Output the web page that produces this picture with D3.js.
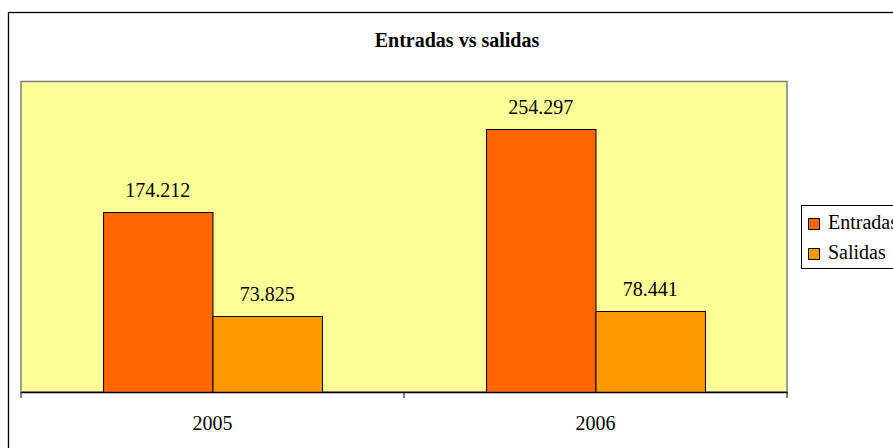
<!DOCTYPE html>
<html>
<script src="https://d3js.org/d3.v7.min.js"></script>
<body style="margin:0">
<svg width="893" height="448"></svg>
<script>
var years    = ["2005", "2006"],
    series   = ["Entradas", "Salidas"],
    entradas = [174212, 254297],
    salidas  = [73825, 78441],
    colors   = ["#FF6600", "#FF9900"];

var values = [entradas, salidas];
var FONT = "Liberation Serif";
var fmt = d3.format(",d");
var label = function(v) { return fmt(v).replace(/,/g, "."); };

var svg = d3.select("svg");

// outer chart frame (runs off the right/bottom edge)
svg.append("rect")
   .attr("x", 8.5).attr("y", 12.5)
   .attr("width", 900).attr("height", 450)
   .attr("fill", "#fff").attr("stroke", "#000").attr("stroke-width", 1.3);

var plot = {left: 21, right: 787, top: 81.5, bottom: 392};

var x0 = d3.scaleBand().domain(years).range([plot.left, plot.right]);
var x1 = d3.scaleBand().domain(series)
           .range([0, x0.bandwidth()]).paddingOuter(0.75);  // excel gap width 150
var y  = d3.scaleLinear().domain([0, 300000]).range([plot.bottom, plot.top]);

svg.append("rect")
   .attr("x", plot.left).attr("y", plot.top)
   .attr("width", plot.right - plot.left).attr("height", plot.bottom - plot.top)
   .attr("fill", "#FFFF99").attr("stroke", "#808080").attr("stroke-width", 1.5);

svg.append("text")
   .attr("x", 457).attr("y", 47)
   .attr("text-anchor", "middle").attr("font-family", FONT)
   .attr("font-weight", "bold").attr("font-size", 20)
   .text("Entradas vs salidas");

var groups = svg.selectAll("g.year")
  .data(years).enter().append("g")
  .attr("class", "year")
  .attr("transform", function(d) { return "translate(" + x0(d) + ",0)"; });

groups.selectAll("rect")
  .data(function(d, i) { return series.map(function(s, j) { return {s: s, j: j, v: values[j][i]}; }); })
  .enter().append("rect")
  .attr("x", function(d) { return x1(d.s) + 0.5; })
  .attr("y", function(d) { return Math.round(y(d.v)) + 0.5; })
  .attr("width", x1.bandwidth())
  .attr("height", function(d) { return plot.bottom - Math.round(y(d.v)); })
  .attr("fill", function(d) { return colors[d.j]; })
  .attr("stroke", "#000").attr("stroke-width", 1);

groups.selectAll("text.val")
  .data(function(d, i) { return series.map(function(s, j) { return {s: s, v: values[j][i]}; }); })
  .enter().append("text")
  .attr("class", "val")
  .attr("x", function(d) { return x1(d.s) + x1.bandwidth() / 2; })
  .attr("y", function(d) { return y(d.v) - 15; })
  .attr("text-anchor", "middle").attr("font-size", 20).attr("font-family", FONT)
  .text(function(d) { return label(d.v); });

// category axis
var xAxis = d3.axisBottom(x0).tickSize(0).tickPadding(0).tickFormat("");
svg.append("g").attr("transform", "translate(0," + plot.bottom + ")").call(xAxis)
   .select(".domain").attr("stroke", "#000").attr("stroke-width", 1.3);

var tickPos = [plot.left, (x0("2005") + x0.bandwidth()), plot.right];
svg.selectAll("line.tk").data(tickPos).enter().append("line")
   .attr("x1", function(d) { return d; }).attr("x2", function(d) { return d; })
   .attr("y1", plot.bottom).attr("y2", plot.bottom + 6)
   .attr("stroke", "#000").attr("stroke-width", 1);

svg.selectAll("text.cat").data(years).enter().append("text")
   .attr("x", function(d) { return x0(d) + x0.bandwidth() / 2; })
   .attr("y", 430)
   .attr("text-anchor", "middle").attr("font-size", 20).attr("font-family", FONT)
   .text(function(d) { return d; });

// legend
var lg = svg.append("g").attr("transform", "translate(801,205)");
lg.append("rect").attr("x", 0.5).attr("y", 0.5).attr("width", 120).attr("height", 63)
  .attr("fill", "#fff").attr("stroke", "#000").attr("stroke-width", 1);
series.forEach(function(s, j) {
  lg.append("rect").attr("x", 7.5).attr("y", 13.5 + j * 30).attr("width", 11).attr("height", 11)
    .attr("fill", colors[j]).attr("stroke", "#000");
  lg.append("text").attr("x", 27).attr("y", 24 + j * 30)
    .attr("font-size", 20).attr("font-family", FONT).text(s);
});
</script>
</body>
</html>
